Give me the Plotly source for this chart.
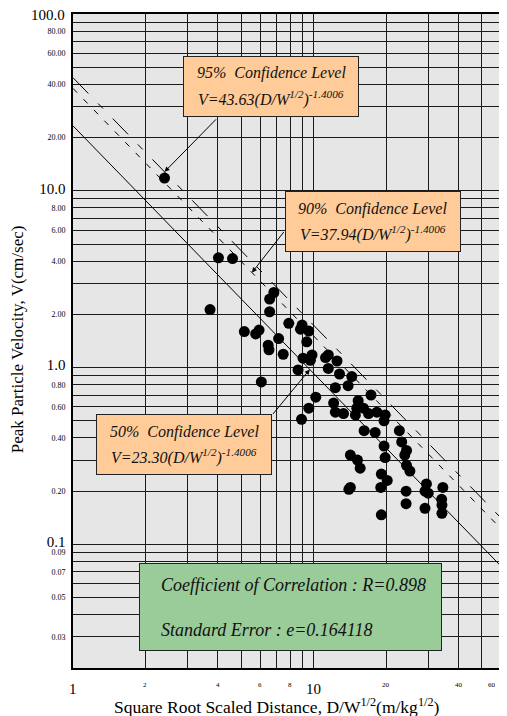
import math
import plotly.graph_objects as go

# ---------------- data ----------------
scaled_distance = [
    2.40, 3.71, 4.02, 4.60, 6.83, 6.56, 6.56, 5.15, 5.74, 5.93,
    6.47, 6.52, 7.15, 7.47, 7.88, 8.95, 8.81, 9.54, 9.36, 9.03,
    9.84, 9.69, 8.61, 6.06, 10.2, 9.54, 8.90, 11.5, 11.2, 12.5,
    11.5, 12.8, 14.4, 13.9, 12.3, 17.3, 12.1, 12.3, 13.3, 15.3,
    15.1, 14.9, 16.1, 16.9, 18.3, 19.8, 19.6, 16.2, 18.0, 22.7,
    23.2, 24.3, 23.9, 19.6, 19.8, 14.2, 15.2, 15.6, 24.3, 25.1,
    19.1, 20.2, 19.0, 14.2, 24.2, 29.4, 29.0, 29.9, 34.4, 24.2,
    29.0, 34.0, 34.1, 34.1, 19.1, 14.0,
]
peak_velocity = [
    11.8, 2.13, 4.18, 4.14, 2.66, 2.44, 2.07, 1.60, 1.55, 1.63,
    1.34, 1.26, 1.46, 1.19, 1.78, 1.74, 1.65, 1.61, 1.40, 1.13,
    1.18, 1.10, 0.97, 0.83, 0.68, 0.59, 0.51, 1.18, 1.14, 1.09,
    0.99, 0.92, 0.89, 0.79, 0.77, 0.70, 0.63, 0.56, 0.55, 0.65,
    0.59, 0.54, 0.59, 0.55, 0.56, 0.54, 0.50, 0.44, 0.43, 0.44,
    0.38, 0.34, 0.32, 0.36, 0.31, 0.32, 0.30, 0.27, 0.28, 0.26,
    0.25, 0.23, 0.21, 0.21, 0.20, 0.22, 0.20, 0.195, 0.21, 0.17,
    0.16, 0.18, 0.167, 0.15, 0.147, 0.205,
]

# regression lines  V = K (D/W^1/2)^n
exponent = -1.4006
coef_95 = 43.63
coef_90 = 37.94
coef_50 = 23.30
line_x = [1, 60]

# where the callout arrows touch their lines
arrow_x_95 = 2.40
arrow_x_90 = 5.54
arrow_x_50 = 9.63

x_range = [1, 60]
y_range = [0.02, 100]

x_grid = [1, 2, 3, 4, 5, 6, 7, 8, 9, 10, 20, 30, 40, 50, 60]
y_grid = [0.02, 0.03, 0.04, 0.05, 0.06, 0.07, 0.08, 0.09,
          0.1, 0.2, 0.3, 0.4, 0.5, 0.6, 0.7, 0.8, 0.9,
          1, 2, 3, 4, 5, 6, 7, 8, 9,
          10, 20, 30, 40, 50, 60, 70, 80, 90, 100]

x_label_vals = [1, 2, 4, 6, 8, 10, 20, 40, 60]
x_label_text = ["1", "2", "4", "6", "8", "10", "20", "40", "60"]
x_label_big = [1, 10]

y_label_vals = [100, 80, 60, 40, 20, 10, 8, 6, 4, 2, 1, 0.8, 0.6, 0.4, 0.2,
                0.1, 0.09, 0.07, 0.05, 0.03]
y_label_text = ["100.0", "80.00", "60.00", "40.00", "20.00", "10.0", "8.00",
                "6.00", "4.00", "2.00", "1.0", "0.80", "0.60", "0.40", "0.20",
                "0.1", "0.09", "0.07", "0.05", "0.03"]
y_label_big = [100, 10, 1, 0.1]

# ---------------- figure ----------------
FONT = "Liberation Serif, Times New Roman, serif"
PEACH = "#FFCC99"
GREEN = "#99CC99"

def power(k, xs):
    return [k * x ** exponent for x in xs]

fig = go.Figure()
fig.add_trace(go.Scatter(x=line_x, y=power(coef_50, line_x), mode="lines",
                         line=dict(color="black", width=1)))
fig.add_trace(go.Scatter(x=line_x, y=power(coef_90, line_x), mode="lines",
                         line=dict(color="black", width=1, dash="6px,9px")))
fig.add_trace(go.Scatter(x=line_x, y=power(coef_95, line_x), mode="lines",
                         line=dict(color="black", width=1,
                                   dash="22px,14px,7px,14px")))
fig.add_trace(go.Scatter(x=scaled_distance, y=peak_velocity, mode="markers",
                         marker=dict(color="black", size=11, line=dict(width=0))))

# y tick texts (big ones larger); the top label is drawn as an annotation
top_value = y_range[1]
y_ticktext = []
for v in y_grid:
    t = ""
    for lv, lt in zip(y_label_vals, y_label_text):
        if abs(lv - v) < 1e-9 and lv != top_value:
            t = lt
            if lv in y_label_big:
                t = '<span style="font-size:15px">%s</span>' % lt
    y_ticktext.append(t)

axis_common = dict(type="log", showgrid=True, gridcolor="#1a1a1a", gridwidth=1,
                   showline=True, linecolor="black", linewidth=2, mirror=True,
                   zeroline=False)
fig.update_xaxes(range=[math.log10(x_range[0]), math.log10(x_range[1])],
                 tickvals=x_grid, ticks="", showticklabels=False, **axis_common)
fig.update_yaxes(range=[math.log10(y_range[0]), math.log10(y_range[1])],
                 tickvals=y_grid, ticktext=y_ticktext, ticks="",
                 showticklabels=True, ticklabelstandoff=4,
                 tickfont=dict(family=FONT, size=8, color="black"),
                 **axis_common)

# the page body adds an 8px margin around the figure
OFF = 8
W, H = 507 - OFF, 716 - OFF
ML, MR, MT, MB = 73 - OFF, 4, 12 - OFF, 48
PW, PH = W - ML - MR, H - MT - MB
LEFT, BOTTOM = ML + OFF, OFF + H - MB   # plot edges in screen pixels

def px_x(px):
    return (px - LEFT) / PW

def px_y(py):
    return (BOTTOM - py) / PH

ann = []
# top y label
ann.append(dict(x=px_x(67), xref="paper", y=math.log10(top_value), yref="y",
                text=y_label_text[y_label_vals.index(top_value)], showarrow=False,
                xanchor="right", yanchor="middle", yshift=-1,
                font=dict(family=FONT, size=15, color="black")))

# x tick labels
for v, t in zip(x_label_vals, x_label_text):
    big = v in x_label_big
    ann.append(dict(x=math.log10(v), xref="x", y=px_y(679), yref="paper",
                    text=t, showarrow=False, yanchor="top", xanchor="center",
                    xshift=-9 if v == 60 else 0,
                    font=dict(family=FONT, size=15 if big else 7, color="black")))

# axis titles
ann.append(dict(x=px_x(17), xref="paper", y=px_y(338), yref="paper", textangle=-90,
                xanchor="center", yanchor="middle",
                text="Peak Particle Velocity, V(cm/sec)", showarrow=False,
                font=dict(family=FONT, size=17, color="black")))
ann.append(dict(x=px_x(278), xref="paper", y=px_y(706), yref="paper",
                xanchor="center", yanchor="middle",
                text="Square Root Scaled Distance, D/W<sup>1/2</sup>(m/kg<sup>1/2</sup>)",
                showarrow=False, font=dict(family=FONT, size=17.5, color="black")))

# arrows
def arrow(xv, k, ax, ay):
    return dict(x=math.log10(xv), y=math.log10(k * xv ** exponent), xref="x", yref="y",
                text="", showarrow=True, arrowhead=2, arrowsize=1, arrowwidth=1,
                arrowcolor="black", ax=ax, ay=ay)

ann.append(arrow(arrow_x_95, coef_95, 53, -54))
ann.append(arrow(arrow_x_90, coef_90, 33, -42))
ann.append(arrow(arrow_x_50, coef_50, -38, 46))

# callout boxes
def callout(cx, cy, level, k):
    base = dict(x=px_x(cx), y=px_y(cy), xref="paper", yref="paper",
                xanchor="center", yanchor="middle", showarrow=False)
    out = [dict(base, text=" ", width=172, height=57, bgcolor=PEACH,
                bordercolor="#222", borderwidth=1, borderpad=1)]
    out.append(dict(base, text="<i>%s\u00a0 Confidence Level</i>" % level,
                    yshift=13, font=dict(family=FONT, size=16, color="#111")))
    out.append(dict(base,
                    text="<i>V=%.2f(D/W<sup>1/2</sup>)<sup>-1.4006</sup></i>" % k,
                    yshift=-12, font=dict(family=FONT, size=16, color="#111")))
    return out

ann += callout(272, 84.5, "95%", coef_95)
ann += callout(374, 220.5, "90%", coef_90)
ann += callout(185, 444, "50%", coef_50)

# statistics box
ann.append(dict(x=px_x(291.5), y=px_y(607), xref="paper", yref="paper", text=" ",
                xanchor="center", yanchor="middle",
                showarrow=False, width=299, height=84, bgcolor=GREEN,
                bordercolor="#222", borderwidth=1, borderpad=1))
ann.append(dict(x=px_x(159), y=px_y(585), xref="paper", yref="paper",
                xanchor="left", yanchor="middle", showarrow=False,
                text="<i>Coefficient of Correlation : R=0.898</i>",
                font=dict(family=FONT, size=18, color="#111")))
ann.append(dict(x=px_x(159), y=px_y(630), xref="paper", yref="paper",
                xanchor="left", yanchor="middle", showarrow=False,
                text="<i>Standard Error : e=0.164118</i>",
                font=dict(family=FONT, size=18, color="#111")))

fig.update_layout(width=W, height=H, margin=dict(l=ML, r=MR, t=MT, b=MB),
                  paper_bgcolor="white", plot_bgcolor="#e6e6e6",
                  showlegend=False, annotations=ann)

fig.write_html("out.html")
